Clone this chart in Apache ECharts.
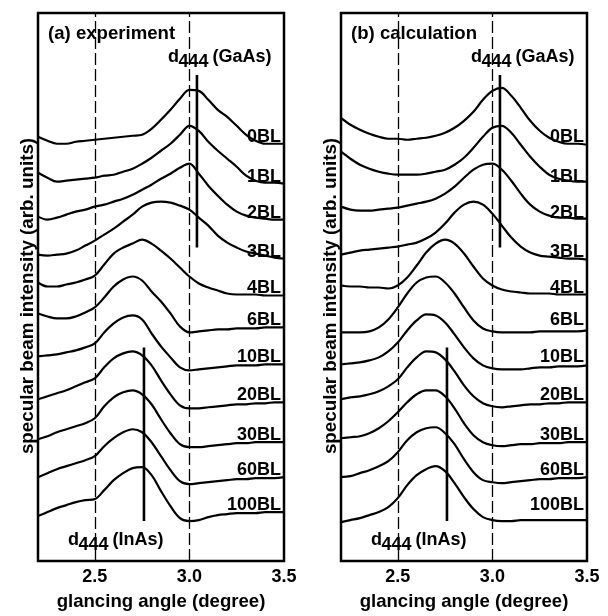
<!DOCTYPE html>
<html>
<head>
<meta charset="utf-8">
<script src="https://cdn.jsdelivr.net/npm/echarts@6/dist/echarts.min.js"></script>
<style>
  html, body { margin: 0; padding: 0; background: #fff; }
  #chart { width: 608px; height: 616px; }
</style>
</head>
<body>
<div id="chart"></div>
<script>
// glancing angle grid (degree)
const angles = [2.2, 2.25, 2.3, 2.35, 2.4, 2.45, 2.5, 2.55, 2.6, 2.65, 2.7, 2.75, 2.8, 2.85,
                2.9, 2.95, 3.0, 3.05, 3.1, 3.15, 3.2, 3.25, 3.3, 3.35, 3.4, 3.45, 3.5];
const layers = ['0BL', '1BL', '2BL', '3BL', '4BL', '6BL', '10BL', '20BL', '30BL', '60BL', '100BL'];

// stacked intensities (arb. units, offsets included), one row per layer
const experiment = [
  [425, 421, 418, 418, 420, 421, 422, 423, 424, 425, 426, 427, 433, 442, 452, 463, 472, 471, 462, 452, 445, 436, 427, 421, 418, 418, 418],
  [389, 384, 380, 381, 382, 383, 384, 386, 387, 390, 393, 398, 404, 411, 418, 427, 436, 431, 420, 411, 403, 395, 386, 381, 379, 379, 378],
  [345, 342, 344, 347, 350, 352, 355, 357, 360, 363, 367, 372, 377, 383, 388, 394, 398, 388, 376, 366, 357, 350, 346, 344, 343, 342, 342],
  [307, 306, 307, 308, 311, 316, 321, 327, 333, 340, 347, 355, 359, 360, 359, 356, 352, 344, 336, 326, 319, 314, 310, 308, 306, 304, 303],
  [279, 275, 275, 277, 279, 282, 286, 297, 308, 314, 318, 322, 318, 311, 303, 294, 285, 278, 274, 271, 268, 267, 267, 267, 266, 266, 266],
  [248, 245, 243, 243, 245, 249, 254, 264, 275, 282, 285, 281, 270, 260, 248, 235, 229, 230, 231, 232, 232, 233, 233, 233, 234, 234, 234],
  [205, 206, 207, 209, 211, 214, 218, 229, 238, 244, 246, 242, 228, 215, 204, 194, 191, 192, 193, 194, 195, 196, 196, 196, 197, 197, 197],
  [162, 165, 168, 171, 175, 179, 183, 194, 203, 208, 210, 206, 196, 181, 167, 156, 153, 153, 154, 155, 156, 157, 157, 158, 158, 159, 159],
  [122, 125, 129, 132, 135, 138, 143, 155, 164, 169, 171, 167, 157, 142, 128, 117, 114, 114, 115, 116, 117, 118, 118, 119, 119, 119, 119],
  [84, 88, 92, 95, 98, 101, 105, 115, 123, 129, 132, 129, 119, 105, 91, 80, 77, 78, 79, 80, 81, 82, 82, 83, 83, 83, 84],
  [45, 49, 53, 56, 59, 61, 62, 71, 81, 88, 93, 94, 86, 70, 55, 43, 40, 41, 44, 46, 47, 48, 48, 48, 49, 49, 49]
];
const calculation = [
  [444, 437, 432, 428, 425, 423, 423, 422, 423, 424, 426, 429, 434, 441, 450, 462, 471, 474, 466, 454, 441, 431, 424, 420, 418, 418, 417],
  [410, 403, 397, 393, 390, 388, 387, 387, 387, 388, 390, 392, 397, 404, 414, 425, 434, 436, 429, 417, 405, 395, 387, 383, 381, 380, 380],
  [355, 352, 351, 351, 352, 353, 354, 356, 358, 360, 363, 368, 375, 384, 392, 397, 398, 392, 381, 368, 357, 350, 346, 344, 344, 343, 343],
  [307, 309, 311, 312, 313, 314, 315, 317, 319, 323, 329, 338, 349, 357, 360, 357, 348, 336, 324, 315, 309, 306, 305, 304, 303, 303, 302],
  [276, 275, 275, 274, 274, 273, 276, 284, 296, 309, 318, 322, 318, 308, 295, 283, 276, 272, 270, 269, 268, 268, 268, 267, 267, 267, 267],
  [229, 229, 229, 230, 234, 242, 254, 268, 279, 284, 285, 279, 268, 254, 241, 233, 230, 229, 229, 229, 229, 230, 230, 230, 230, 230, 231],
  [197, 198, 199, 201, 204, 210, 219, 231, 241, 247, 246, 239, 227, 214, 203, 196, 193, 192, 192, 192, 193, 194, 194, 195, 195, 195, 196],
  [162, 164, 165, 167, 170, 175, 182, 194, 204, 210, 209, 202, 190, 176, 165, 158, 155, 154, 155, 156, 157, 157, 158, 158, 159, 159, 159],
  [123, 124, 125, 128, 133, 140, 149, 159, 167, 171, 171, 165, 153, 138, 126, 119, 116, 115, 116, 117, 117, 118, 118, 118, 119, 119, 119],
  [84, 85, 88, 91, 95, 100, 109, 121, 129, 133, 134, 128, 117, 102, 89, 81, 79, 78, 79, 80, 81, 82, 82, 83, 83, 83, 84],
  [39, 41, 43, 46, 49, 54, 63, 76, 86, 92, 95, 90, 78, 64, 52, 44, 41, 40, 40, 41, 41, 41, 41, 41, 41, 41, 41]
];

const refAngles = [2.5, 3.0];          // dashed guides
const tickAngles = [2.5, 3.0, 3.5];
const gaasAngle = 3.04, gaasSpan = [314, 487];
const inasAngle = 2.76, inasSpan = [40, 214];
const panelTitles = ['(a) experiment', '(b) calculation'];

const FONT = '"Liberation Sans", Arial, Helvetica, sans-serif';
const txt = { color: '#000', fontFamily: FONT, fontWeight: 'bold', fontSize: 18 };
const titleTxt = { color: '#000', fontFamily: FONT, fontWeight: 'bold', fontSize: 18.6 };

let myChart = echarts.init(document.getElementById('chart'), null, { renderer: 'canvas' });

let grids = [], xAxes = [], yAxes = [], series = [];
const lefts = [38, 341];

// labels share the same levels in both panels: take them from the measured curve ends
const labelLevels = experiment.map(r => r[r.length - 1]);

[experiment, calculation].forEach((curves, p) => {
  grids.push({
    left: lefts[p], top: 13, width: 246, height: 549,
    show: true, borderColor: '#000', borderWidth: 2.5, backgroundColor: 'transparent'
  });
  xAxes.push({
    gridIndex: p, type: 'value', min: 2.2, max: 3.5,
    axisLine: { show: false }, axisTick: { show: false }, splitLine: { show: false },
    axisLabel: Object.assign({ customValues: tickAngles, formatter: v => v.toFixed(1), margin: 7 }, txt),
    name: 'glancing angle (degree)', nameLocation: 'middle', nameGap: 31,
    nameTextStyle: titleTxt
  });
  yAxes.push({ gridIndex: p, type: 'value', min: 0, max: 549, show: false });

  curves.forEach((vals, i) => {
    let s = {
      type: 'line', xAxisIndex: p, yAxisIndex: p,
      data: angles.map((a, k) => [a, vals[k]]),
      showSymbol: false, smooth: 0.35, silent: true,
      lineStyle: { color: '#000', width: 2.2 }
    };
    if (i === 0) {
      s.markLine = {
        silent: true, symbol: 'none', label: { show: false },
        lineStyle: { color: '#000', width: 1.3, type: [12, 4] },
        data: refAngles.map(a => ({ xAxis: a }))
      };
    }
    series.push(s);
  });

  series.push({
    type: 'scatter', xAxisIndex: p, yAxisIndex: p, symbolSize: 0, silent: true, z: 5,
    itemStyle: { opacity: 1 },
    data: layers.map((n, i) => ({ name: n, value: [3.5, labelLevels[i]] })),
    label: Object.assign({ show: true, formatter: '{b}', position: [0, 0], align: 'right',
      verticalAlign: 'bottom', offset: [-3, 2], opacity: 1,
      textBorderWidth: 0, textShadowBlur: 0 }, txt)
  });

  // d444 markers
  [[gaasAngle, gaasSpan], [inasAngle, inasSpan]].forEach(([a, span]) => {
    series.push({
      type: 'line', xAxisIndex: p, yAxisIndex: p, showSymbol: false, silent: true,
      data: span.map(v => [a, v]),
      lineStyle: { color: '#000', width: 2.6 }
    });
  });
});

const boldFont = 'bold 18px ' + FONT;
function dText(x, y, label) {
  const t = (tx, ty, s) => ({ type: 'text', x: tx, y: ty,
    style: { text: s, fill: '#000', font: boldFont, verticalAlign: 'middle' } });
  return { type: 'group', x: x, y: y, z: 10,
    children: [t(0, 0, 'd'), t(10.5, 5, '444'), t(44.5, 0, label)] };
}
let graphics = [];
lefts.forEach((l, p) => {
  graphics.push({ type: 'text', x: l + 10, y: 34, z: 10,
    style: { text: panelTitles[p], fill: '#000', font: 'bold 18.6px ' + FONT, verticalAlign: 'middle' } });
  graphics.push(dText(l + 130, 57, '(GaAs)'));
  graphics.push(dText(l + 30, 540, '(InAs)'));
  graphics.push({ type: 'text', x: l - 10, y: 296, rotation: Math.PI / 2, z: 10,
    style: { text: 'specular beam intensity (arb. units)', fill: '#000', font: 'bold 18.8px ' + FONT,
      align: 'center', verticalAlign: 'middle' } });
});

let option = {
  animation: false,
  backgroundColor: '#fff',
  grid: grids,
  xAxis: xAxes,
  yAxis: yAxes,
  series: series,
  graphic: graphics
};
myChart.setOption(option);
</script>
</body>
</html>
